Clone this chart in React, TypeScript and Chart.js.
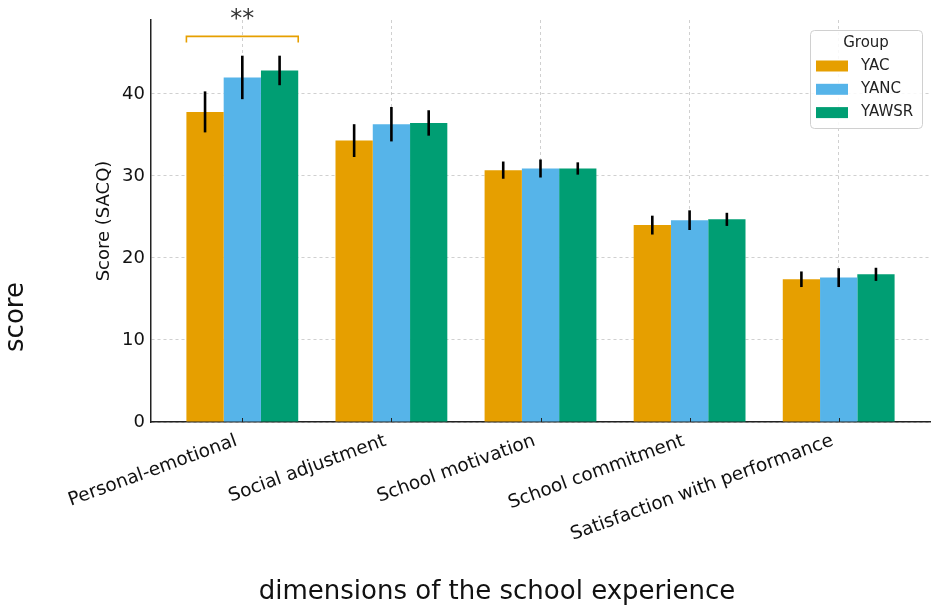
import { useEffect, useRef } from "react"
import { Chart, registerables } from "chart.js"

Chart.register(...registerables)

const categories = [
  "Personal-emotional",
  "Social adjustment",
  "School motivation",
  "School commitment",
  "Satisfaction with performance",
]
const groups = ["YAC", "YANC", "YAWSR"]
const groupColors = ["#E69F00", "#56B4E9", "#009E73"]
const yacMeans = [37.8, 34.3, 30.7, 24.0, 17.4]
const yancMeans = [42.0, 36.3, 30.9, 24.6, 17.6]
const yawsrMeans = [42.85, 36.45, 30.9, 24.7, 18.0]
const yacErrors = [2.5, 2.0, 1.05, 1.15, 0.95]
const yancErrors = [2.65, 2.1, 1.1, 1.2, 1.15]
const yawsrErrors = [1.8, 1.55, 0.75, 0.8, 0.8]
const yTicks = [0, 10, 20, 30, 40]
const sigCategory = 0
const sigLevel = 47
const sigLabel = "**"

const means = [yacMeans, yancMeans, yawsrMeans]
const errors = [yacErrors, yancErrors, yawsrErrors]

const FONT = "'DejaVu Sans', sans-serif"

const errorBarPlugin = {
  id: "errorBars",
  afterDatasetsDraw(chart: any) {
    const ctx = chart.ctx
    const y = chart.scales.y
    ctx.save()
    ctx.strokeStyle = "#000"
    ctx.lineWidth = 2.6
    chart.data.datasets.forEach((_: any, i: number) => {
      const meta = chart.getDatasetMeta(i)
      meta.data.forEach((bar: any, j: number) => {
        const m = means[i][j]
        const e = errors[i][j]
        ctx.beginPath()
        ctx.moveTo(bar.x, y.getPixelForValue(m + e))
        ctx.lineTo(bar.x, y.getPixelForValue(m - e))
        ctx.stroke()
      })
    })
    ctx.restore()
  },
}

const annotationPlugin = {
  id: "annotations",
  afterDraw(chart: any) {
    const ctx = chart.ctx
    const y = chart.scales.y
    const x = chart.scales.x
    ctx.save()

    // small inward tick marks on the x axis
    ctx.strokeStyle = "#222"
    ctx.lineWidth = 1
    categories.forEach((_, i) => {
      const px = Math.round(x.getPixelForValue(i)) + 0.5
      ctx.beginPath()
      ctx.moveTo(px, chart.chartArea.bottom)
      ctx.lineTo(px, chart.chartArea.bottom - 4)
      ctx.stroke()
    })

    // significance bracket
    const first = chart.getDatasetMeta(0).data[sigCategory]
    const last = chart.getDatasetMeta(groups.length - 1).data[sigCategory]
    const x1 = first.x - first.width / 2
    const x2 = last.x + last.width / 2
    const yb = y.getPixelForValue(sigLevel)
    const yt = y.getPixelForValue(sigLevel - 0.75)
    ctx.strokeStyle = "#E69F00"
    ctx.lineWidth = 1.6
    ctx.beginPath()
    ctx.moveTo(x1, yt)
    ctx.lineTo(x1, yb)
    ctx.lineTo(x2, yb)
    ctx.lineTo(x2, yt)
    ctx.stroke()
    ctx.fillStyle = "#333"
    ctx.font = `24px ${FONT}`
    ctx.textAlign = "center"
    ctx.textBaseline = "alphabetic"
    ctx.fillText(sigLabel, (x1 + x2) / 2, yb - 10)

    // legend
    const lx = 810
    const ly = 30
    const lw = 112
    const lh = 98
    ctx.fillStyle = "rgba(255,255,255,0.85)"
    ctx.strokeStyle = "#d0d0d0"
    ctx.lineWidth = 1
    ctx.beginPath()
    ctx.roundRect(lx + 0.5, ly + 0.5, lw, lh, 4)
    ctx.fill()
    ctx.stroke()
    ctx.fillStyle = "#222"
    ctx.font = `15px ${FONT}`
    ctx.textAlign = "center"
    ctx.textBaseline = "middle"
    ctx.fillText("Group", lx + 56, ly + 13)
    groups.forEach((g, i) => {
      const ry = ly + 36 + i * 23.3
      ctx.fillStyle = groupColors[i]
      ctx.fillRect(lx + 6, ry - 5.5, 32, 11)
      ctx.fillStyle = "#222"
      ctx.textAlign = "left"
      ctx.fillText(g, lx + 51, ry)
    })

    // outer titles
    ctx.fillStyle = "#111"
    ctx.font = `26px ${FONT}`
    ctx.textAlign = "center"
    ctx.textBaseline = "alphabetic"
    ctx.fillText("dimensions of the school experience", 497, 599)
    ctx.translate(23, 317)
    ctx.rotate(-Math.PI / 2)
    ctx.fillText("score", 0, 0)
    ctx.restore()
  },
}

export default function App() {
  const chartRef = useRef<HTMLCanvasElement>(null)
  const chartInstance = useRef<Chart | null>(null)

  useEffect(() => {
    if (!chartRef.current) return
    if (chartInstance.current) chartInstance.current.destroy()

    const ctx = chartRef.current.getContext("2d")
    if (!ctx) return

    chartInstance.current = new Chart(ctx, {
      type: "bar",
      data: {
        datasets: groups.map((g, i) => ({
          label: g,
          data: categories.map((_, j) => ({ x: j, y: means[i][j] })),
          backgroundColor: groupColors[i],
          borderWidth: 0,
          categoryPercentage: 0.75,
          barPercentage: 1.0,
        })),
      },
      options: {
        animation: false,
        responsive: false,
        maintainAspectRatio: false,
        layout: { padding: { left: 60, right: 5, top: 20, bottom: 0 } },
        plugins: {
          legend: { display: false },
          tooltip: { enabled: false },
        },
        scales: {
          x: {
            type: "linear",
            min: -0.6125,
            max: 4.6125,
            offset: false,
            z: 1,
            afterBuildTicks: (scale: any) => {
              scale.ticks = categories.map((_, i) => ({ value: i }))
            },
            afterFit: (scale: any) => {
              scale.height = 185
            },
            ticks: {
              autoSkip: false,
              minRotation: 20,
              maxRotation: 20,
              padding: 8,
              labelOffset: -6,
              color: "#111",
              font: { family: FONT, size: 18.5 },
              callback: (v: any) => categories[v as number] ?? "",
            },
            grid: {
              offset: false,
              color: "rgba(170,170,170,0.55)",
              lineWidth: 1,
              drawTicks: false,
            },
            border: { display: true, color: "#222", width: 1.5, dash: [3, 3] },
          },
          y: {
            min: 0,
            max: 49,
            z: 1,
            afterBuildTicks: (scale: any) => {
              scale.ticks = yTicks.map((v) => ({ value: v }))
            },
            afterFit: (scale: any) => {
              scale.width = 91
            },
            ticks: {
              padding: 6,
              color: "#111",
              font: { family: FONT, size: 18 },
            },
            title: {
              display: true,
              text: "Score (SACQ)",
              color: "#111",
              font: { family: FONT, size: 18 },
              padding: { top: 34, bottom: 0 },
            },
            grid: {
              color: "rgba(170,170,170,0.55)",
              lineWidth: 1,
              drawTicks: false,
            },
            border: { display: true, color: "#222", width: 1.5, dash: [3, 3] },
          },
        },
      },
      plugins: [errorBarPlugin, annotationPlugin],
    } as any)

    return () => {
      if (chartInstance.current) {
        chartInstance.current.destroy()
        chartInstance.current = null
      }
    }
  }, [])

  return (
    <div style={{ position: "absolute", left: 0, top: 0, width: 935, height: 607, background: "#fff" }}>
      <canvas ref={chartRef} width={935} height={607} style={{ width: 935, height: 607 }} />
    </div>
  )
}
